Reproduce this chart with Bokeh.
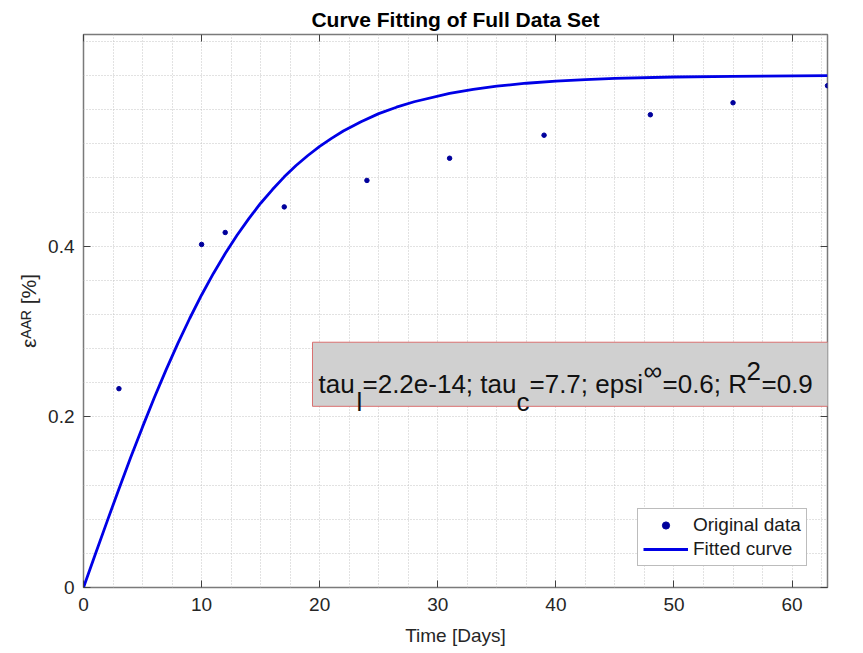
from bokeh.plotting import figure
from bokeh.models import (Range1d, LinearAxis, FixedTicker, SingleIntervalTicker,
                          Label, BoxAnnotation, Legend, LegendItem, NumeralTickFormatter)
from bokeh.embed import file_html
from bokeh.resources import INLINE

# ---- data ----
days = [3, 10, 12, 17, 24, 31, 39, 48, 55, 63]
strain = [0.233, 0.402, 0.416, 0.446, 0.477, 0.503, 0.530, 0.554, 0.568, 0.588]

fit_days = [0, 1, 2, 3, 4, 5, 6, 7, 8, 9, 10, 11, 12, 13, 14, 15, 16, 17, 18, 19, 20,
            21, 22, 23.5, 25, 26.5, 28, 31, 33, 35, 37.5, 40, 42.5, 45, 50, 55, 63]
fit_strain = [0.0, 0.0389, 0.0775, 0.1155, 0.1525, 0.1882, 0.2226, 0.2553, 0.2863,
              0.3155, 0.3428, 0.3680, 0.3913, 0.4128, 0.4323, 0.4503, 0.4663, 0.4812,
              0.4945, 0.5062, 0.5170, 0.5263, 0.5349, 0.5458, 0.5553, 0.5628, 0.5692,
              0.5790, 0.5837, 0.5874, 0.5909, 0.5934, 0.5952, 0.5965, 0.5982, 0.5990,
              0.5997]

x_ticks = [0, 10, 20, 30, 40, 50, 60]
y_ticks = [0, 0.2, 0.4]

title_text = "Curve Fitting of Full Data Set"
x_label = "Time [Days]"
y_label = "\u03b5\u1d2c\u1d2c\u1d3f [%]"
series_names = ["Original data", "Fitted curve"]

FONT = "Liberation Sans"
AX_COL = "#7a7a7a"
TXT_COL = "#262626"

p = figure(width=863, height=653, x_range=Range1d(0, 63), y_range=Range1d(0, 0.648),
           output_backend="svg", toolbar_location=None,
           min_border_left=83, min_border_right=36, min_border_top=34, min_border_bottom=66,
           background_fill_color="white", border_fill_color="white",
           title=title_text)

p.title.text_font = FONT
p.title.text_font_size = "21px"
p.title.text_font_style = "bold"
p.title.text_color = "#000000"
p.title.align = "center"
p.title.standoff = 7

p.outline_line_color = AX_COL
p.outline_line_width = 1.5

# grids (dotted, every 2.5 days / 0.04)
p.xgrid.ticker = SingleIntervalTicker(interval=2.5, num_minor_ticks=0)
p.ygrid.ticker = SingleIntervalTicker(interval=0.04, num_minor_ticks=0)
for g in (p.xgrid, p.ygrid):
    g.grid_line_color = "#c4c4c4"
    g.grid_line_dash = "1 2"
    g.grid_line_width = 1

def style_axis(ax, ticks, labels=True):
    ax.ticker = FixedTicker(ticks=ticks)
    ax.axis_line_color = None
    ax.major_tick_in = 7
    ax.major_tick_out = 0
    ax.minor_tick_in = 0
    ax.minor_tick_out = 0
    ax.major_tick_line_color = "#404040"
    ax.major_tick_line_width = 1
    if labels:
        ax.major_label_text_font = FONT
        ax.major_label_text_font_size = "19px"
        ax.major_label_text_color = TXT_COL
        ax.axis_label_text_font = FONT
        ax.axis_label_text_font_size = "19px"
        ax.axis_label_text_font_style = "normal"
        ax.axis_label_text_color = TXT_COL
    else:
        ax.major_label_overrides = {t: "" for t in ticks}
        ax.major_label_standoff = 0

xa = p.xaxis[0]
style_axis(xa, x_ticks)
xa.major_label_standoff = 10
xa.axis_label = x_label
xa.axis_label_standoff = 11

ya = p.yaxis[0]
style_axis(ya, y_ticks)
ya.major_label_standoff = 9
ya.formatter = NumeralTickFormatter(format="0.[0]")
ya.axis_label = y_label
ya.axis_label_standoff = 5
ya.axis_label_text_font_size = "21px"

top_ax = LinearAxis()
style_axis(top_ax, x_ticks, labels=False)
p.add_layout(top_ax, "above")
right_ax = LinearAxis()
style_axis(right_ax, y_ticks, labels=False)
p.add_layout(right_ax, "right")

# ---- marks ----
line = p.line(fit_days, fit_strain, line_color="#0000e6", line_width=2.8)
dots = p.scatter(days, strain, size=4.5, color="#00009c")

legend = Legend(items=[LegendItem(label=series_names[0], renderers=[dots]),
                       LegendItem(label=series_names[1], renderers=[line])],
                location=(554, 21),
                border_line_color=AX_COL, border_line_width=1,
                background_fill_color="white", background_fill_alpha=1,
                label_text_font=FONT, label_text_font_size="19px", label_text_color="#1a1a1a",
                glyph_width=45, glyph_height=18, label_height=18, spacing=2,
                padding=5, label_standoff=5, margin=0)
p.add_layout(legend)

# ---- annotation textbox ----
box = BoxAnnotation(left=19.39, right=70, bottom=0.2123, top=0.2874,
                    fill_color="#d0d0d0", fill_alpha=1,
                    line_color="#d97070", line_width=1, line_alpha=1, level="overlay")
p.add_layout(box)

def lbl(text, x, y, size):
    p.add_layout(Label(text=text, x=x, y=y, x_units="screen", y_units="screen",
                       text_font=FONT, text_font_size=size, text_color="#111111",
                       text_align="left", text_baseline="alphabetic", level="overlay"))

BASE = 204
SUB = 186
SUP = 217
FS = "26px"
lbl("tau", 235, BASE, FS)
lbl("l", 273, SUB, FS)
lbl("=2.2e-14; tau", 279, BASE, FS)
lbl("c", 433, SUB, FS)
lbl("=7.7; epsi", 446, BASE, FS)
lbl("\u221e", 560, SUP, FS)
lbl("=0.6; R", 579, BASE, FS)
lbl("2", 663, SUP, FS)
lbl("=0.9", 678, BASE, FS)

open("out.html", "w").write(file_html(p, INLINE))
